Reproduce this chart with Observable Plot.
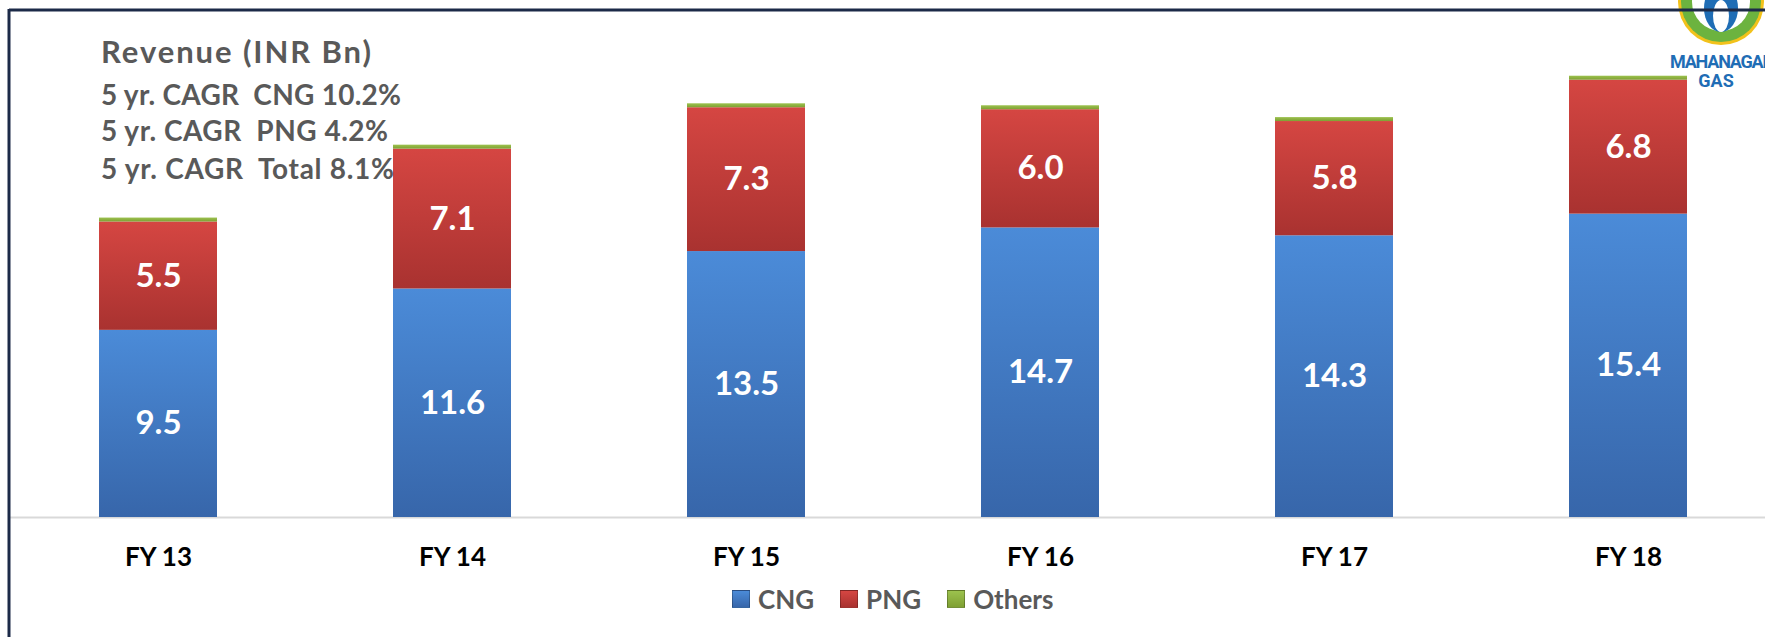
<!DOCTYPE html>
<html><head><meta charset="utf-8">
<script src="https://cdn.jsdelivr.net/npm/d3@7"></script>
<script src="https://cdn.jsdelivr.net/npm/@observablehq/plot@0.6"></script>
<style>
body{margin:0;background:#fff;font-family:Lato,"Open Sans",sans-serif;}
#wrap{position:relative;width:1765px;height:637px;overflow:hidden;background:#fff;}
#legend{position:absolute;left:732px;top:583px;display:flex;align-items:center;font:bold 26px Lato,sans-serif;color:#595959;}
#legend .item{display:flex;align-items:center;margin-right:26px;}
#legend .sw{width:18px;height:18px;margin-right:8px;box-sizing:border-box;}
</style></head><body><div id="wrap"></div>
<script>
const years = ["FY 13","FY 14","FY 15","FY 16","FY 17","FY 18"];
const cng = [9.5, 11.6, 13.5, 14.7, 14.3, 15.4];
const png = [5.5, 7.1, 7.3, 6.0, 5.8, 6.8];
const others = [0.2, 0.2, 0.2, 0.2, 0.2, 0.2];
const seriesNames = ["CNG", "PNG", "Others"];
const seriesColors = ["#3f7bc8", "#c43c38", "#8db33f"];
const titleLines = ["Revenue (INR Bn)", "5 yr. CAGR  CNG 10.2%", "5 yr. CAGR  PNG 4.2%", "5 yr. CAGR  Total 8.1%"];

const seriesValues = [cng, png, others];
const data = [];
years.forEach((y, i) => seriesNames.forEach((s, j) => data.push({year: y, series: s, value: seriesValues[j][i]})));

const plot = Plot.plot({
  width: 1765, height: 637,
  marginLeft: 10, marginRight: 0, marginTop: 24.5, marginBottom: 120,
  style: {fontFamily: "Lato, sans-serif", background: "transparent", color: "#000", overflow: "visible"},
  x: {domain: years, range: [9, 1778], paddingInner: 0.597, paddingOuter: 0.2985, label: null},
  y: {domain: [0, 25], axis: null},
  color: {domain: seriesNames, range: seriesColors},
  marks: [
    Plot.ruleY([0], {stroke: "#d9d9d9", strokeWidth: 2}),
    Plot.barY(data, {x: "year", y: "value", fill: "series", order: seriesNames}),
    Plot.text(data, Plot.stackY({x: "year", y: "value", z: "series", order: seriesNames,
      text: d => d.series === "Others" ? "" : d.value.toFixed(1),
      fill: "white", fontSize: 33, fontWeight: "bold"})),
    Plot.axisX({tickSize: 0, tickPadding: 30, fontSize: 26, fontWeight: "bold", fill: "#000"})
  ]
});
const wrap = document.getElementById("wrap");
wrap.appendChild(plot);

const svg = d3.select(plot);
// gradients for bevel-like look
const defs = svg.insert("defs", ":first-child");
const grads = [
  ["gCNG", "#4b8bd8", "#3766aa"],
  ["gPNG", "#d54642", "#a93230"],
  ["gOth", "#9cc24e", "#7fa033"]
];
grads.forEach(([id, a, b]) => {
  const g = defs.append("linearGradient").attr("id", id).attr("x1", 0).attr("y1", 0).attr("x2", 0).attr("y2", 1);
  g.append("stop").attr("offset", "0").attr("stop-color", a);
  g.append("stop").attr("offset", "1").attr("stop-color", b);
});
seriesColors.forEach((c, i) => {
  svg.selectAll(`rect[fill="${c}"]`).attr("fill", `url(#${grads[i][0]})`);
});

// title lines
const baselines = [63, 105, 141, 179];
const sizes = [31, 28, 28, 28];
const widths = [270, 300, 287, 293];
const tg = svg.append("g").attr("text-anchor", "start");
titleLines.forEach((t, i) => {
  tg.append("text").attr("x", 101).attr("y", baselines[i]).attr("fill", "#595959")
    .attr("text-anchor", "start")
    .attr("font-size", sizes[i]).attr("font-weight", "bold").attr("font-family", "Lato, sans-serif")
    .attr("textLength", widths[i]).attr("lengthAdjust", "spacing")
    .style("white-space", "pre").text(t);
});

// logo (decoration)
const logo = svg.append("g");
logo.append("circle").attr("cx", 1721).attr("cy", 2).attr("r", 43).attr("fill", "#f2c21b");
logo.append("circle").attr("cx", 1721).attr("cy", 2).attr("r", 40).attr("fill", "#6cb33f");
logo.append("circle").attr("cx", 1721).attr("cy", 2).attr("r", 29).attr("fill", "#ffffff");
logo.append("ellipse").attr("cx", 1721).attr("cy", 8).attr("rx", 17).attr("ry", 24).attr("fill", "#1f6db5");
logo.append("ellipse").attr("cx", 1721).attr("cy", 16).attr("rx", 8).attr("ry", 16).attr("fill", "#ffffff");
logo.append("text").attr("x", 1670).attr("y", 68).attr("text-anchor", "start").attr("fill", "#1f6db5")
  .attr("font-size", 18).attr("font-weight", "bold").attr("font-family", "Roboto, sans-serif").attr("textLength", 104).text("MAHANAGAR");
logo.append("text").attr("x", 1716).attr("y", 87).attr("text-anchor", "middle").attr("fill", "#1f6db5")
  .attr("font-size", 18).attr("font-weight", "bold").attr("font-family", "Roboto, sans-serif").text("GAS");

// frame
svg.append("line").attr("x1", 9).attr("x2", 1765).attr("y1", 10).attr("y2", 10).attr("stroke", "#1c2a48").attr("stroke-width", 3);
svg.append("line").attr("x1", 9).attr("x2", 9).attr("y1", 9).attr("y2", 637).attr("stroke", "#1c2a48").attr("stroke-width", 3);

// legend
const legend = document.createElement("div");
legend.id = "legend";
seriesNames.forEach((s, i) => {
  const item = document.createElement("div");
  item.className = "item";
  const sw = document.createElement("div");
  sw.className = "sw";
  sw.style.background = `linear-gradient(${grads[i][1]}, ${grads[i][2]})`;
  sw.style.border = "1px solid rgba(0,0,0,0.25)";
  const lab = document.createElement("span");
  lab.textContent = s;
  item.appendChild(sw); item.appendChild(lab);
  legend.appendChild(item);
});
wrap.appendChild(legend);
</script>
</body></html>
